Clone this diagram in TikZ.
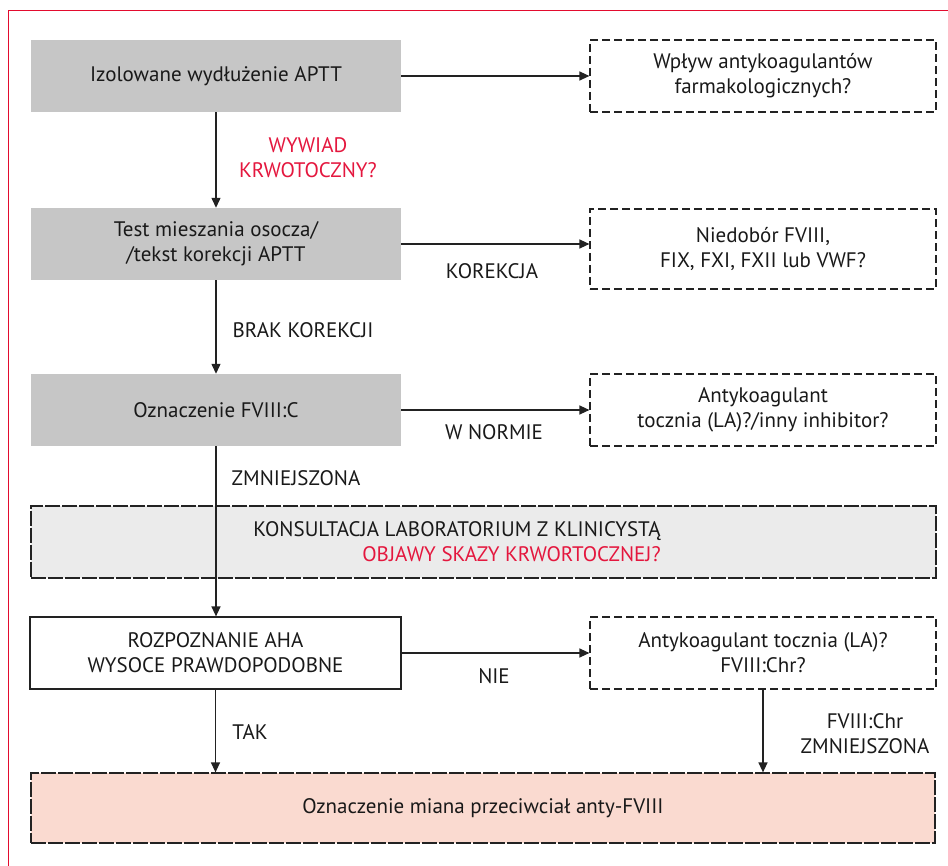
\documentclass[tikz,border=0pt]{standalone}
\usepackage{fontspec}
\setmainfont{PT Sans}
\usetikzlibrary{arrows.meta}
\definecolor{framered}{HTML}{E30B2E}
\definecolor{textred}{HTML}{E4173E}
\definecolor{boxgray}{HTML}{C6C6C6}
\definecolor{lightgray}{HTML}{EBEBEB}
\definecolor{pinkfill}{HTML}{FADAD0}
\definecolor{linegray}{HTML}{222222}
\begin{document}
\begin{tikzpicture}[x=1pt,y=-1pt,>={Triangle[length=10pt,width=9pt]},
    every node/.style={font=\fontsize{21}{25}\selectfont, text=black!90, align=center},
    graybox/.style={fill=boxgray, minimum width=370pt, minimum height=72pt, inner sep=0pt},
    dashbox/.style={draw=linegray, line width=1.2pt, dash pattern=on 8pt off 4pt, minimum width=346pt, minimum height=72pt, inner sep=0pt},
    widebox/.style={draw=linegray, line width=1.2pt, dash pattern=on 15pt off 2pt, inner sep=0pt},
    flow/.style={->, draw=linegray, line width=1.3pt}]
  \useasboundingbox (0,0) rectangle (948,866);
  \draw[framered, line width=1pt] (8,866) -- (8,11) -- (948,11); % open frame

  % left column and side boxes
  \foreach \nm/\y/\dy/\dh/\gtext/\dtext in {
      1/76/76/72/{Izolowane wydłużenie APTT}/{Wpływ antykoagulantów\\farmakologicznych?},
      2/244/249/80/{Test mieszania osocza/\\/tekst korekcji APTT}/{Niedobór FVIII,\\FIX, FXI, FXII lub VWF?},
      3/410/410/72/{Oznaczenie FVIII:C}/{Antykoagulant\\tocznia (LA)?/inny inhibitor?}}
  {
    \node[graybox] (g\nm) at (216,\y) {\gtext};
    \node[dashbox, minimum height=\dh pt] (d\nm) at (763,\dy) {\dtext};
    \draw[flow] (g\nm.east) -- (g\nm.east -| d\nm.west);
  }
  \draw[flow] (g1) -- (g2);
  \draw[flow] (g2) -- (g3);

  % consultation band
  \node[widebox, fill=lightgray, minimum width=905pt, minimum height=72pt] (kons) at (483.5,542) {};
  \node[align=right] (konstext) at (457,542) {KONSULTACJA LABORATORIUM Z KLINICYSTĄ\\\textcolor{textred}{OBJAWY SKAZY KRWORTOCZNEJ?}};

  % diagnosis row
  \node[draw=linegray, line width=1.2pt, minimum width=371pt, minimum height=72pt, inner sep=0pt] (rozp) at (215.5,653) {ROZPOZNANIE AHA\\WYSOCE PRAWDOPODOBNE};
  \node[dashbox] (d4) at (763,653) {Antykoagulant tocznia (LA)?\\FVIII:Chr?};
  \node[widebox, fill=pinkfill, minimum width=904pt, minimum height=70pt] (miano) at (483,808) {Oznaczenie miana przeciwciał anty-FVIII};

  \draw[flow] (g3.south) -- (g3.south |- rozp.north); % crosses the band
  \draw[flow] (rozp.east) -- (rozp.east -| d4.west);
  \draw[flow] (rozp.south) -- (rozp.south |- miano.north);
  \draw[flow] (d4.south) -- (d4.south |- miano.north);

  % edge labels
  \node[text=textred] (lwywiad) at (308,158) {WYWIAD\\KRWOTOCZNY?};
  \node (lkor) at (492,271) {KOREKCJA};
  \node (lbrak) at (303,330) {BRAK KOREKCJI};
  \node (lnorm) at (494,432) {W NORMIE};
  \node (lzmn) at (296,478) {ZMNIEJSZONA};
  \node (lnie) at (494,676) {NIE};
  \node (ltak) at (250,732) {TAK};
  \node (lchr) at (865,734) {FVIII:Chr\\ZMNIEJSZONA};
\end{tikzpicture}
\end{document}
